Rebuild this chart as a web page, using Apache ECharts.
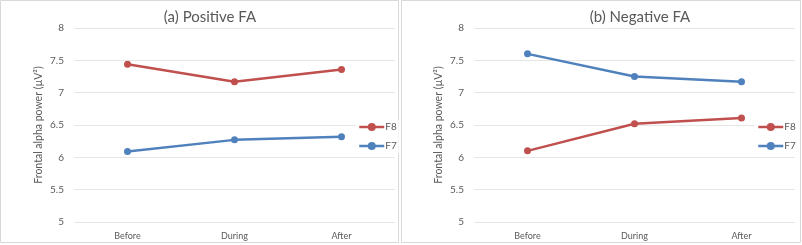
<!DOCTYPE html>
<html><head><meta charset="utf-8">
<script src="https://cdn.jsdelivr.net/npm/echarts@6/dist/echarts.min.js"></script>
<style>html,body{margin:0;padding:0;background:#fff}#c{width:802px;height:245px}</style>
</head><body><div id="c"></div>
<script>
const categories = ['Before', 'During', 'After'];
const posF8 = [7.44, 7.17, 7.36];
const posF7 = [6.09, 6.27, 6.32];
const negF8 = [6.10, 6.52, 6.61];
const negF7 = [7.60, 7.25, 7.17];
const titles = ['(a) Positive FA', '(b) Negative FA'];
const yName = 'Frontal alpha power (\u00b5V\u00b2)';

const RED = '#C0504D', BLUE = '#4F81BD', TXT = '#595959';
const FONT = 'Lato, "Open Sans", sans-serif';
const chart = echarts.init(document.getElementById('c'));

function xAx(i) {
  return { type: 'category', gridIndex: i, data: categories, boundaryGap: true,
    axisLine: { show: false }, axisTick: { show: false },
    axisLabel: { color: TXT, fontSize: 9, fontFamily: FONT, margin: 10 } };
}
function yAx(i) {
  return { type: 'value', gridIndex: i, min: 5, max: 8, interval: 0.5,
    name: yName, nameLocation: 'middle', nameGap: 30, nameRotate: 90,
    nameTextStyle: { color: TXT, fontSize: 10.5, fontFamily: FONT },
    axisLine: { show: false }, axisTick: { show: false },
    axisLabel: { color: TXT, fontSize: 10, fontFamily: FONT, margin: 10 },
    splitLine: { lineStyle: { color: '#e6e6e6', width: 1 } } };
}
function ser(name, data, color, i) {
  return { name: name, type: 'line', xAxisIndex: i, yAxisIndex: i, data: data,
    symbol: 'circle', symbolSize: 7, color: color,
    lineStyle: { color: color, width: 2.5 }, itemStyle: { color: color } };
}
function leg(x) {
  return { data: ['F8', 'F7'], left: x, top: 120, orient: 'vertical', itemGap: 9,
    itemWidth: 25, itemHeight: 10,
    lineStyle: { width: 2.5 },
    textStyle: { color: TXT, fontSize: 10, fontFamily: FONT, padding: [0, 0, 0, -4] },
    backgroundColor: '#fff', padding: [2, 2] };
}

chart.setOption({
  animation: false,
  textStyle: { fontFamily: FONT },
  title: [
    { text: titles[0], left: 205, top: 5, textAlign: 'center',
      textStyle: { color: TXT, fontSize: 15, fontWeight: 'normal', fontFamily: FONT } },
    { text: titles[1], left: 635, top: 5, textAlign: 'center',
      textStyle: { color: TXT, fontSize: 15, fontWeight: 'normal', fontFamily: FONT } }
  ],
  grid: [
    { left: 74, top: 28, width: 321, height: 194 },
    { left: 474, top: 28, width: 321, height: 194 }
  ],
  legend: [leg(356), leg(755)],
  xAxis: [xAx(0), xAx(1)],
  yAxis: [yAx(0), yAx(1)],
  series: [
    ser('F8', posF8, RED, 0), ser('F7', posF7, BLUE, 0),
    ser('F8', negF8, RED, 1), ser('F7', negF7, BLUE, 1)
  ],
  graphic: [
    { type: 'rect', shape: { x: 0.5, y: 0.5, width: 398, height: 242 },
      style: { fill: 'none', stroke: '#d9d9d9', lineWidth: 1 }, silent: true },
    { type: 'rect', shape: { x: 401.5, y: 0.5, width: 399, height: 242 },
      style: { fill: 'none', stroke: '#d9d9d9', lineWidth: 1 }, silent: true }
  ]
});
</script></body></html>
